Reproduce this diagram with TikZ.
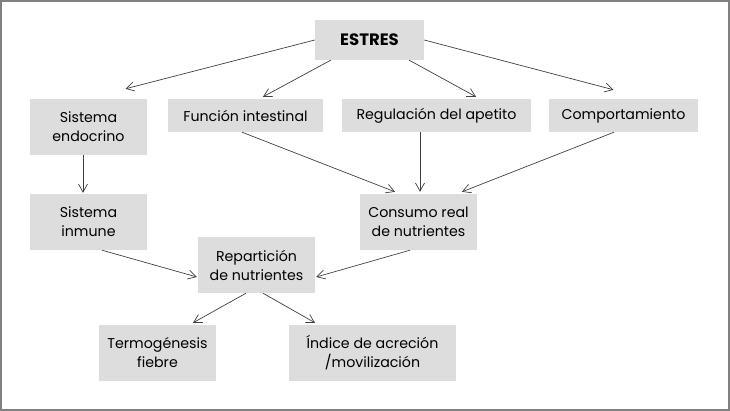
\documentclass[tikz,border=0pt]{standalone}
\usepackage{fontspec}
\setmainfont{Poppins}
\usepackage{tikz}
\usetikzlibrary{arrows.meta,calc}
\usepackage{xcolor}
\definecolor{boxgray}{HTML}{DDDDDD}
\definecolor{framegray}{HTML}{808080}
\definecolor{linkgray}{HTML}{404040}
\tikzset{
  box/.style  = {fill=boxgray, inner sep=0pt, align=center,
                 font=\fontsize{14.2}{19}\selectfont},
  link/.style = {-{Straight Barb[length=8pt,width=9pt]}, linkgray, line width=0.7pt},
}

\begin{document}
\begin{tikzpicture}[x=1pt, y=1pt]
\useasboundingbox (0,0) rectangle (730,411);
\draw[framegray, line width=1.5pt] (1,1) rectangle (729,410);
% ---- top ----
\node[box, minimum width=109, minimum height=40, font=\fontsize{16.5}{19}\bfseries] (estres) at (369.5,371) {ESTRES};
% ---- first row ----
\node[box, minimum width=117, minimum height=56] (endo)    at (88.5,284)    {Sistema\\ endocrino};
\node[box, minimum width=155, minimum height=33] (intest)  at (245.5,295.5) {Función intestinal};
\node[box, minimum width=189, minimum height=33] (apetito) at (436.5,295.5) {Regulación del apetito};
\node[box, minimum width=149, minimum height=33] (comport) at (623.5,295.5) {Comportamiento};
% ---- second row ----
\node[box, minimum width=117, minimum height=56] (inmune)  at (88.5,189)  {Sistema\\ inmune};
\node[box, minimum width=117, minimum height=56] (consumo) at (418.5,189) {Consumo real\\ de nutrientes};
\node[box, minimum width=117, minimum height=56] (repart)  at (256.5,146) {Repartición\\ de nutrientes};
% ---- bottom ----
\node[box, minimum width=117, minimum height=56] (termo)   at (157.5,58) {Termogénesis\\ fiebre};
\node[box, minimum width=167, minimum height=56] (indice)  at (372.5,58) {Índice de acreción\\ /movilización};
% ---- arrows ----
\draw[link] (estres.west) -- ($(endo.north)+(37,10)$);
\draw[link] ($(estres.south west)+(16,0)$) -- ($(intest.north)+(17.5,2)$);
\draw[link] ($(estres.south east)+(-15,0)$) -- ($(apetito.north)+(39.5,2)$);
\draw[link] (estres.east) -- ($(comport.north)+(-10,9)$);
\draw[link] ($(endo.south)+(-5.5,0)$) -- ($(inmune.north)+(-5.5,1)$);
\draw[link] ($(intest.south)+(-3.5,0)$) -- ($(consumo.north)+(-23.5,2)$);
\draw[link] ($(apetito.south)+(-16.5,0)$) -- ($(consumo.north)+(1.5,2)$);
\draw[link] ($(comport.south)+(-9.5,0)$) -- ($(consumo.north)+(43.5,2)$);
\draw[link] ($(inmune.south)+(13.5,0)$) -- ($(repart.west)+(-1,-12)$);
\draw[link] ($(consumo.south)+(-8.5,0)$) -- ($(repart.east)+(1,-12)$);
\draw[link] ($(repart.south)+(-10.5,0)$) -- ($(termo.north)+(35.5,2)$);
\draw[link] ($(repart.south)+(6.5,0)$) -- ($(indice.north)+(-57.5,2)$);
\end{tikzpicture}
\end{document}
